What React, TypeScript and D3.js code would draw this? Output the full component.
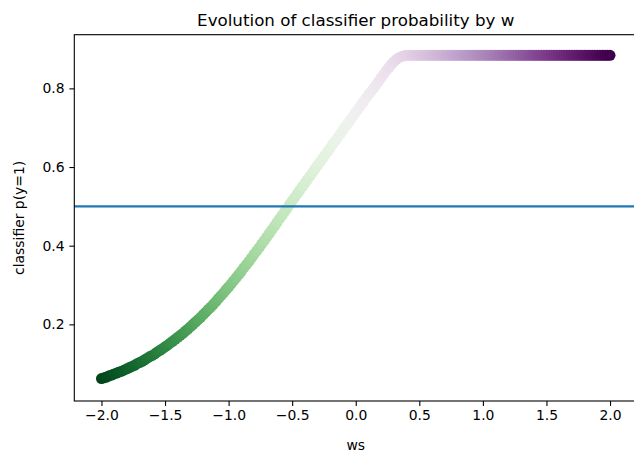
import * as d3 from 'd3';
import { useEffect, useRef } from 'react';

// ws values (x axis), step 0.02
const ws = [
  -2.0, -1.98, -1.96, -1.94, -1.92, -1.9, -1.88, -1.86, -1.84, -1.82,
  -1.8, -1.78, -1.76, -1.74, -1.72, -1.7, -1.68, -1.66, -1.64, -1.62,
  -1.6, -1.58, -1.56, -1.54, -1.52, -1.5, -1.48, -1.46, -1.44, -1.42,
  -1.4, -1.38, -1.36, -1.34, -1.32, -1.3, -1.28, -1.26, -1.24, -1.22,
  -1.2, -1.18, -1.16, -1.14, -1.12, -1.1, -1.08, -1.06, -1.04, -1.02,
  -1.0, -0.98, -0.96, -0.94, -0.92, -0.9, -0.88, -0.86, -0.84, -0.82,
  -0.8, -0.78, -0.76, -0.74, -0.72, -0.7, -0.68, -0.66, -0.64, -0.62,
  -0.6, -0.58, -0.56, -0.54, -0.52, -0.5, -0.48, -0.46, -0.44, -0.42,
  -0.4, -0.38, -0.36, -0.34, -0.32, -0.3, -0.28, -0.26, -0.24, -0.22,
  -0.2, -0.18, -0.16, -0.14, -0.12, -0.1, -0.08, -0.06, -0.04, -0.02,
  0.0, 0.02, 0.04, 0.06, 0.08, 0.1, 0.12, 0.14, 0.16, 0.18,
  0.2, 0.22, 0.24, 0.26, 0.28, 0.3, 0.32, 0.34, 0.36, 0.38,
  0.4, 0.42, 0.44, 0.46, 0.48, 0.5, 0.52, 0.54, 0.56, 0.58,
  0.6, 0.62, 0.64, 0.66, 0.68, 0.7, 0.72, 0.74, 0.76, 0.78,
  0.8, 0.82, 0.84, 0.86, 0.88, 0.9, 0.92, 0.94, 0.96, 0.98,
  1.0, 1.02, 1.04, 1.06, 1.08, 1.1, 1.12, 1.14, 1.16, 1.18,
  1.2, 1.22, 1.24, 1.26, 1.28, 1.3, 1.32, 1.34, 1.36, 1.38,
  1.4, 1.42, 1.44, 1.46, 1.48, 1.5, 1.52, 1.54, 1.56, 1.58,
  1.6, 1.62, 1.64, 1.66, 1.68, 1.7, 1.72, 1.74, 1.76, 1.78,
  1.8, 1.82, 1.84, 1.86, 1.88, 1.9, 1.92, 1.94, 1.96, 1.98,
  2.0,
];
// classifier p(y=1)
const probs = [
  0.062, 0.064, 0.066, 0.069, 0.071, 0.074, 0.076, 0.079, 0.081, 0.084,
  0.087, 0.09, 0.093, 0.096, 0.1, 0.103, 0.106, 0.11, 0.114, 0.118,
  0.121, 0.125, 0.13, 0.134, 0.138, 0.143, 0.147, 0.152, 0.157, 0.162,
  0.167, 0.172, 0.177, 0.183, 0.188, 0.194, 0.2, 0.206, 0.212, 0.218,
  0.225, 0.231, 0.238, 0.244, 0.251, 0.258, 0.266, 0.273, 0.28, 0.288,
  0.295, 0.303, 0.311, 0.319, 0.327, 0.335, 0.344, 0.352, 0.36, 0.369,
  0.378, 0.386, 0.395, 0.404, 0.413, 0.422, 0.431, 0.44, 0.449, 0.459,
  0.468, 0.477, 0.486, 0.495, 0.505, 0.514, 0.523, 0.532, 0.541, 0.55,
  0.559, 0.568, 0.577, 0.586, 0.595, 0.604, 0.613, 0.622, 0.631, 0.64,
  0.649, 0.658, 0.667, 0.676, 0.685, 0.694, 0.703, 0.712, 0.721, 0.73,
  0.739, 0.748, 0.757, 0.766, 0.775, 0.784, 0.792, 0.8, 0.809, 0.818,
  0.827, 0.836, 0.845, 0.853, 0.861, 0.868, 0.874, 0.878, 0.881, 0.883,
  0.884, 0.884, 0.884, 0.884, 0.884, 0.884, 0.884, 0.884, 0.884, 0.884,
  0.884, 0.884, 0.884, 0.884, 0.884, 0.884, 0.884, 0.884, 0.884, 0.884,
  0.884, 0.884, 0.884, 0.884, 0.884, 0.884, 0.884, 0.884, 0.884, 0.884,
  0.884, 0.884, 0.884, 0.884, 0.884, 0.884, 0.884, 0.884, 0.884, 0.884,
  0.884, 0.884, 0.884, 0.884, 0.884, 0.884, 0.884, 0.884, 0.884, 0.884,
  0.884, 0.884, 0.884, 0.884, 0.884, 0.884, 0.884, 0.884, 0.884, 0.884,
  0.884, 0.884, 0.884, 0.884, 0.884, 0.884, 0.884, 0.884, 0.884, 0.884,
  0.884, 0.884, 0.884, 0.884, 0.884, 0.884, 0.884, 0.884, 0.884, 0.884,
  0.884,
];
const xTicks = [-2.0, -1.5, -1.0, -0.5, 0.0, 0.5, 1.0, 1.5, 2.0];
const yTicks = [0.2, 0.4, 0.6, 0.8];
const threshold = 0.5;

export default function App() {
  const ref = useRef<SVGSVGElement>(null);

  useEffect(() => {
    if (!ref.current) return;
    const W = 634,
      H = 455;
    const left = 74.3,
      right = 637.2,
      top = 34.7,
      bottom = 401;
    const font = 'DejaVu Sans, sans-serif';

    const svg = d3.select(ref.current);
    svg.selectAll('*').remove();
    svg.attr('width', W).attr('height', H);
    svg.append('rect').attr('width', W).attr('height', H).attr('fill', '#fff');

    const x = d3.scaleLinear().domain([-2.2137, 2.2137]).range([left, right]);
    const y = d3.scaleLinear().domain([0.0051, 0.9365]).range([bottom, top]);
    // reversed PRGn: green at -2, purple at +2
    const color = (w: number) => d3.interpolatePRGn((2 - w) / 4);

    const data = ws.map((w, i) => ({ w, p: probs[i] }));

    // scatter
    svg
      .append('g')
      .selectAll('circle')
      .data(data)
      .join('circle')
      .attr('cx', (d) => x(d.w))
      .attr('cy', (d) => y(d.p))
      .attr('r', 5.5)
      .attr('fill', (d) => color(d.w));

    // horizontal line at 0.5
    svg
      .append('line')
      .attr('x1', left)
      .attr('x2', right)
      .attr('y1', y(threshold))
      .attr('y2', y(threshold))
      .attr('stroke', '#1f77b4')
      .attr('stroke-width', 2.1);

    // frame
    svg
      .append('rect')
      .attr('x', left)
      .attr('y', top)
      .attr('width', right - left)
      .attr('height', bottom - top)
      .attr('fill', 'none')
      .attr('stroke', '#000')
      .attr('stroke-width', 1.1);

    // x axis
    const xAxis = d3
      .axisBottom(x)
      .tickValues(xTicks)
      .tickFormat(d3.format('.1f'))
      .tickSize(4.9)
      .tickPadding(4.5);
    const gx = svg.append('g').attr('transform', `translate(0,${bottom})`).call(xAxis);
    gx.select('.domain').remove();
    gx.selectAll('line').attr('stroke', '#000').attr('stroke-width', 1.1);
    gx.selectAll('text')
      .attr('fill', '#000')
      .style('font-family', font)
      .style('font-size', '13.9px');

    // y axis
    const yAxis = d3
      .axisLeft(y)
      .tickValues(yTicks)
      .tickFormat(d3.format('.1f'))
      .tickSize(4.9)
      .tickPadding(4.9);
    const gy = svg.append('g').attr('transform', `translate(${left},0)`).call(yAxis);
    gy.select('.domain').remove();
    gy.selectAll('line').attr('stroke', '#000').attr('stroke-width', 1.1);
    gy.selectAll('text')
      .attr('fill', '#000')
      .style('font-family', font)
      .style('font-size', '13.9px');

    // title
    svg
      .append('text')
      .text('Evolution of classifier probability by w')
      .attr('x', (left + right) / 2)
      .attr('y', 25.5)
      .attr('text-anchor', 'middle')
      .attr('fill', '#000')
      .style('font-family', font)
      .style('font-size', '16.7px');

    // axis labels
    svg
      .append('text')
      .text('ws')
      .attr('x', (left + right) / 2)
      .attr('y', 450)
      .attr('text-anchor', 'middle')
      .attr('fill', '#000')
      .style('font-family', font)
      .style('font-size', '13.9px');

    svg
      .append('text')
      .text('classifier p(y=1)')
      .attr('transform', `translate(23.5,${(top + bottom) / 2}) rotate(-90)`)
      .attr('text-anchor', 'middle')
      .attr('fill', '#000')
      .style('font-family', font)
      .style('font-size', '13.9px');
  }, []);

  return (
    <svg
      ref={ref}
      style={{ position: 'absolute', left: 0, top: 0, display: 'block' }}
    ></svg>
  );
}
